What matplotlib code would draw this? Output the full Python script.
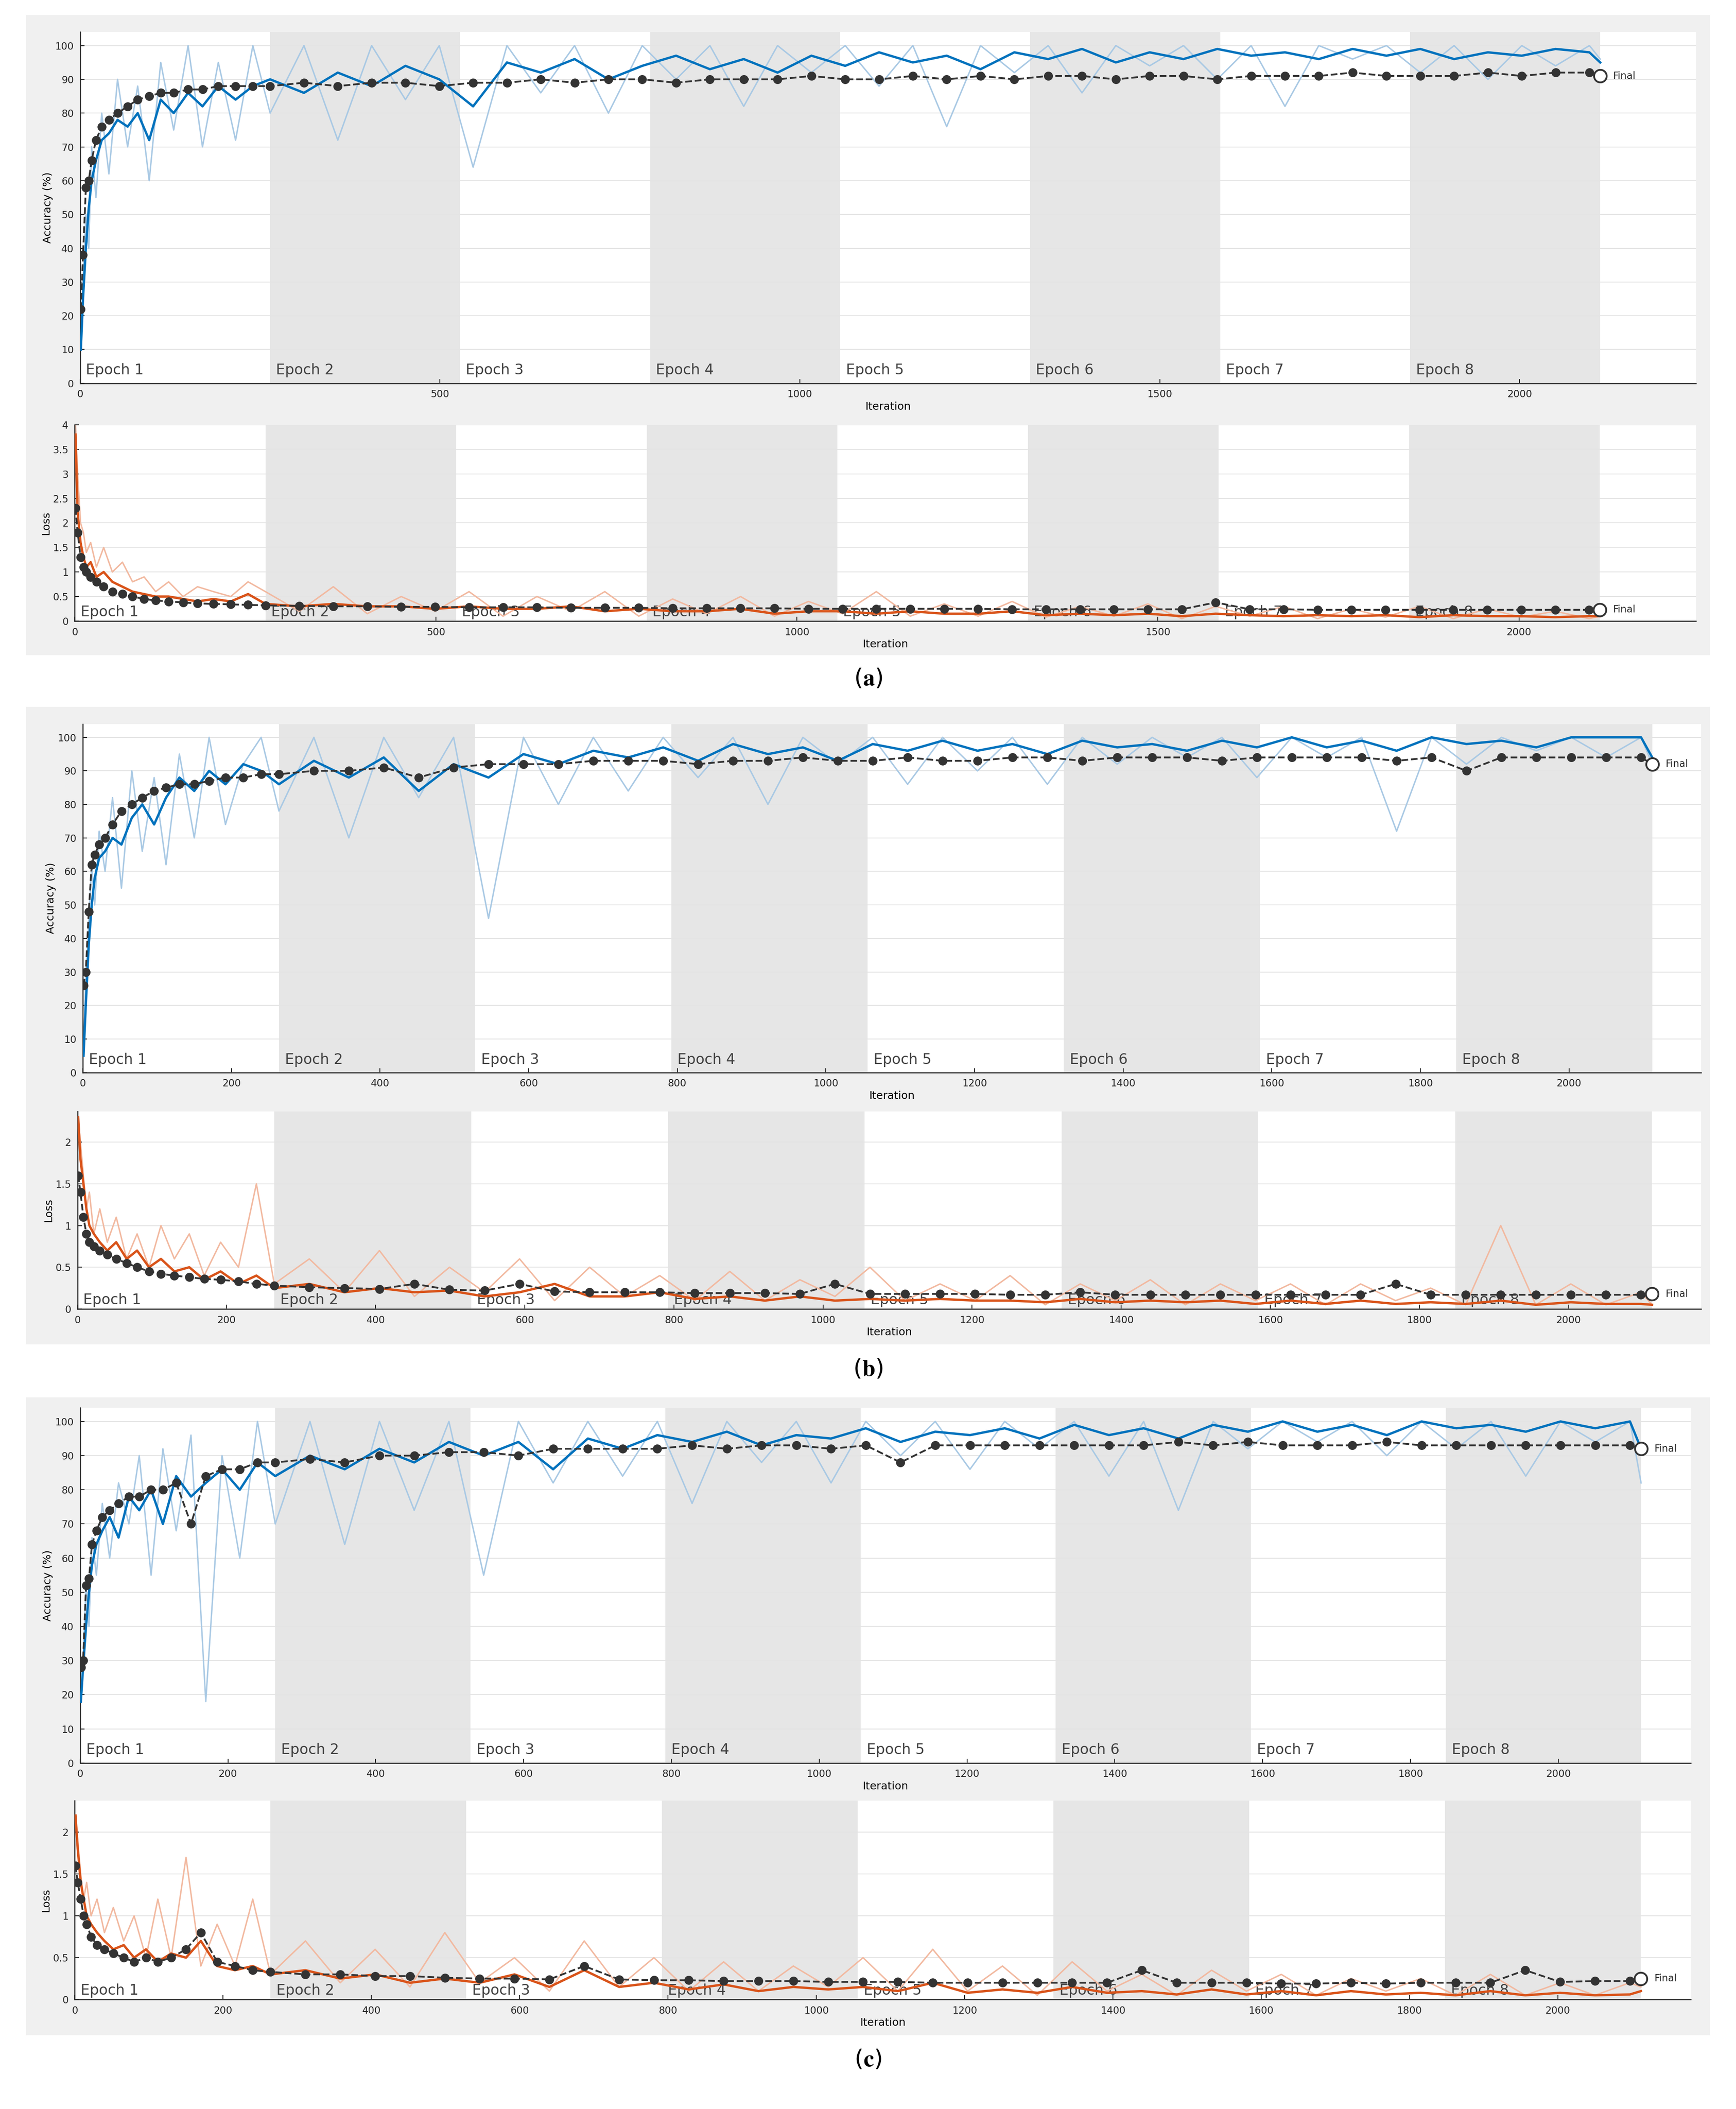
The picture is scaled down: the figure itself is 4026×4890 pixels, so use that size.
import numpy as np
import matplotlib.pyplot as plt
from matplotlib.patches import Rectangle
from matplotlib.ticker import FormatStrFormatter, FuncFormatter

plt.rcParams['font.family'] = ['DejaVu Sans']
plt.rcParams['mathtext.fontset'] = 'stix'

# sample iterations shared by all panels
iters = [1, 4, 8, 12, 16, 22, 30, 40, 52, 66, 80, 96, 112, 130, 150, 170, 192, 216, 240] + \
        list(range(264, 2112, 47)) + [2112]
epoch_len = 264
n_epochs = 8

# ---------- panel (a) ----------
acc_raw_a = [10, 30, 50, 40, 70, 55, 80, 62, 90, 70, 88, 60, 95, 75, 100, 70, 95, 72, 100,
             80, 100, 72, 100, 84, 100, 64, 100, 86, 100,
             80, 100, 90, 100, 82, 100, 92, 100, 88, 100,
             76, 100, 92, 100, 86, 100, 94, 100, 90, 100,
             82, 100, 96, 100, 92, 100, 90, 100, 94, 100, 96]
acc_sm_a = [10, 25, 40, 52, 60, 66, 72, 74, 78, 76, 80, 72, 84, 80, 86, 82, 88, 84, 88,
            90, 86, 92, 88, 94, 90, 82, 95, 92, 96,
            90, 94, 97, 93, 96, 92, 97, 94, 98, 95,
            97, 93, 98, 96, 99, 95, 98, 96, 99, 97,
            98, 96, 99, 97, 99, 96, 98, 97, 99, 98, 95]
acc_val_a = [22, 38, 58, 60, 66, 72, 76, 78, 80, 82, 84, 85, 86, 86, 87, 87, 88, 88, 88,
             88, 89, 88, 89, 89, 88, 89, 89, 90, 89,
             90, 90, 89, 90, 90, 90, 91, 90, 90, 91,
             90, 91, 90, 91, 91, 90, 91, 91, 90, 91,
             91, 91, 92, 91, 91, 91, 92, 91, 92, 92, 91]
loss_raw_a = [4.0, 3.0, 2.0, 1.8, 1.4, 1.6, 1.1, 1.5, 1.0, 1.2, 0.8, 0.9, 0.6, 0.8, 0.5, 0.7, 0.6, 0.5, 0.8,
              0.6, 0.2, 0.7, 0.15, 0.5, 0.2, 0.6, 0.1, 0.5, 0.2,
              0.6, 0.1, 0.45, 0.15, 0.5, 0.1, 0.4, 0.15, 0.6, 0.1,
              0.35, 0.1, 0.4, 0.08, 0.3, 0.1, 0.35, 0.05, 0.3, 0.1,
              0.3, 0.05, 0.25, 0.08, 0.3, 0.05, 0.25, 0.08, 0.2, 0.05, 0.1]
loss_sm_a = [3.8, 2.2, 1.6, 1.3, 1.1, 1.2, 0.9, 1.0, 0.8, 0.7, 0.6, 0.55, 0.5, 0.5, 0.45, 0.4, 0.45, 0.4, 0.55,
             0.35, 0.3, 0.35, 0.3, 0.3, 0.25, 0.3, 0.25, 0.25, 0.3,
             0.2, 0.25, 0.2, 0.2, 0.25, 0.15, 0.2, 0.2, 0.15, 0.2,
             0.15, 0.15, 0.2, 0.12, 0.15, 0.12, 0.15, 0.1, 0.15, 0.12,
             0.1, 0.12, 0.1, 0.12, 0.08, 0.12, 0.1, 0.1, 0.08, 0.1, 0.1]
loss_val_a = [2.3, 1.8, 1.3, 1.1, 1.0, 0.9, 0.8, 0.7, 0.6, 0.55, 0.5, 0.45, 0.42, 0.4, 0.38, 0.36, 0.35, 0.34, 0.33,
              0.32, 0.31, 0.3, 0.3, 0.29, 0.29, 0.28, 0.28, 0.28, 0.27,
              0.27, 0.27, 0.26, 0.26, 0.26, 0.26, 0.25, 0.25, 0.25, 0.25,
              0.25, 0.25, 0.24, 0.24, 0.24, 0.24, 0.24, 0.24, 0.38, 0.24,
              0.24, 0.23, 0.23, 0.23, 0.23, 0.23, 0.23, 0.23, 0.23, 0.23, 0.23]

# ---------- panel (b) ----------
acc_raw_b = [5, 28, 45, 62, 50, 72, 60, 82, 55, 90, 66, 88, 62, 95, 70, 100, 74, 92, 100,
             78, 100, 70, 100, 82, 100, 46, 100, 80, 100,
             84, 100, 88, 100, 80, 100, 92, 100, 86, 100,
             90, 100, 86, 100, 92, 100, 94, 100, 88, 100,
             94, 100, 72, 100, 92, 100, 96, 100, 94, 100, 92]
acc_sm_b = [5, 20, 38, 50, 58, 64, 66, 70, 68, 76, 80, 74, 82, 88, 84, 90, 86, 92, 90,
            86, 93, 88, 94, 84, 92, 88, 95, 92, 96,
            94, 97, 93, 98, 95, 97, 93, 98, 96, 99,
            96, 98, 95, 99, 97, 98, 96, 99, 97, 100,
            97, 99, 96, 100, 98, 99, 97, 100, 100, 100, 94]
acc_val_b = [26, 30, 48, 62, 65, 68, 70, 74, 78, 80, 82, 84, 85, 86, 86, 87, 88, 88, 89,
             89, 90, 90, 91, 88, 91, 92, 92, 92, 93,
             93, 93, 92, 93, 93, 94, 93, 93, 94, 93,
             93, 94, 94, 93, 94, 94, 94, 93, 94, 94,
             94, 94, 93, 94, 90, 94, 94, 94, 94, 94, 92]
loss_raw_b = [2.3, 2.0, 1.6, 1.2, 1.4, 0.9, 1.2, 0.8, 1.1, 0.6, 0.9, 0.5, 1.0, 0.6, 0.9, 0.4, 0.8, 0.5, 1.5,
              0.3, 0.6, 0.2, 0.7, 0.15, 0.5, 0.2, 0.6, 0.1, 0.5,
              0.15, 0.4, 0.1, 0.45, 0.1, 0.35, 0.15, 0.5, 0.1, 0.3,
              0.1, 0.4, 0.05, 0.3, 0.1, 0.35, 0.05, 0.3, 0.1, 0.3,
              0.05, 0.3, 0.1, 0.25, 0.05, 1.0, 0.05, 0.3, 0.05, 0.2, 0.05]
loss_sm_b = [2.3, 1.8, 1.5, 1.2, 1.0, 0.9, 0.8, 0.7, 0.8, 0.6, 0.7, 0.5, 0.6, 0.45, 0.5, 0.35, 0.45, 0.3, 0.4,
             0.25, 0.3, 0.2, 0.25, 0.2, 0.22, 0.15, 0.2, 0.3, 0.15,
             0.15, 0.2, 0.12, 0.15, 0.1, 0.15, 0.1, 0.12, 0.1, 0.12,
             0.1, 0.1, 0.08, 0.12, 0.08, 0.1, 0.08, 0.1, 0.06, 0.1,
             0.06, 0.1, 0.06, 0.08, 0.06, 0.1, 0.05, 0.08, 0.06, 0.06, 0.05]
loss_val_b = [1.6, 1.4, 1.1, 0.9, 0.8, 0.75, 0.7, 0.65, 0.6, 0.55, 0.5, 0.45, 0.42, 0.4, 0.38, 0.36, 0.35, 0.33, 0.3,
              0.28, 0.26, 0.25, 0.24, 0.3, 0.23, 0.22, 0.3, 0.21, 0.2,
              0.2, 0.2, 0.19, 0.19, 0.19, 0.18, 0.3, 0.18, 0.18, 0.18,
              0.18, 0.17, 0.17, 0.2, 0.17, 0.17, 0.17, 0.17, 0.17, 0.17,
              0.17, 0.17, 0.3, 0.17, 0.17, 0.17, 0.17, 0.17, 0.17, 0.17, 0.18]

# ---------- panel (c) ----------
acc_raw_c = [18, 30, 52, 40, 66, 55, 76, 60, 82, 70, 90, 55, 92, 68, 96, 18, 90, 60, 100,
             70, 100, 64, 100, 74, 100, 55, 100, 82, 100,
             84, 100, 76, 100, 88, 100, 82, 100, 90, 100,
             86, 100, 92, 100, 84, 100, 74, 100, 92, 100,
             94, 100, 90, 100, 92, 100, 84, 100, 94, 100, 82]
acc_sm_c = [18, 28, 40, 50, 58, 64, 68, 72, 66, 78, 74, 80, 70, 84, 78, 82, 86, 80, 88,
            84, 90, 86, 92, 88, 94, 90, 94, 86, 95,
            92, 96, 94, 97, 93, 96, 95, 98, 94, 97,
            96, 98, 95, 99, 96, 98, 95, 99, 97, 100,
            97, 99, 96, 100, 98, 99, 97, 100, 98, 100, 92]
acc_val_c = [28, 30, 52, 54, 64, 68, 72, 74, 76, 78, 78, 80, 80, 82, 70, 84, 86, 86, 88,
             88, 89, 88, 90, 90, 91, 91, 90, 92, 92,
             92, 92, 93, 92, 93, 93, 92, 93, 88, 93,
             93, 93, 93, 93, 93, 93, 94, 93, 94, 93,
             93, 93, 94, 93, 93, 93, 93, 93, 93, 93, 92]
loss_raw_c = [2.2, 1.9, 1.5, 1.2, 1.4, 1.0, 1.2, 0.8, 1.1, 0.7, 1.0, 0.5, 1.2, 0.5, 1.7, 0.4, 0.9, 0.4, 1.2,
              0.3, 0.7, 0.2, 0.6, 0.15, 0.8, 0.2, 0.5, 0.1, 0.7,
              0.15, 0.5, 0.1, 0.45, 0.1, 0.4, 0.15, 0.5, 0.1, 0.6,
              0.1, 0.4, 0.05, 0.45, 0.1, 0.3, 0.05, 0.35, 0.1, 0.3,
              0.05, 0.25, 0.1, 0.25, 0.05, 0.3, 0.05, 0.2, 0.05, 0.2, 0.15]
loss_sm_c = [2.2, 1.8, 1.4, 1.2, 1.0, 0.9, 0.8, 0.7, 0.6, 0.65, 0.5, 0.6, 0.45, 0.55, 0.5, 0.7, 0.4, 0.35, 0.4,
             0.3, 0.35, 0.25, 0.3, 0.2, 0.25, 0.2, 0.3, 0.15, 0.35,
             0.15, 0.2, 0.12, 0.18, 0.1, 0.15, 0.12, 0.15, 0.1, 0.2,
             0.08, 0.12, 0.08, 0.15, 0.08, 0.1, 0.06, 0.12, 0.06, 0.1,
             0.05, 0.1, 0.06, 0.08, 0.05, 0.1, 0.05, 0.08, 0.05, 0.06, 0.1]
loss_val_c = [1.6, 1.4, 1.2, 1.0, 0.9, 0.75, 0.65, 0.6, 0.55, 0.5, 0.45, 0.5, 0.45, 0.5, 0.6, 0.8, 0.45, 0.4, 0.35,
              0.33, 0.3, 0.3, 0.28, 0.28, 0.26, 0.25, 0.25, 0.24, 0.4,
              0.24, 0.23, 0.23, 0.22, 0.22, 0.22, 0.21, 0.21, 0.21, 0.2,
              0.2, 0.2, 0.2, 0.2, 0.2, 0.35, 0.2, 0.2, 0.2, 0.19,
              0.19, 0.2, 0.19, 0.2, 0.2, 0.2, 0.35, 0.21, 0.22, 0.22, 0.25]

panels = [
    dict(tag='a', acc=(acc_raw_a, acc_sm_a, acc_val_a), loss=(loss_raw_a, loss_sm_a, loss_val_a),
         box=(12, 490), acc_box=(60, 1270, 24, 287), loss_box=(56, 1270, 318, 465),
         xmax=2245, loss_ymax=4.0, loss_ticks=[0, 0.5, 1, 1.5, 2, 2.5, 3, 3.5, 4],
         xticks=[0, 500, 1000, 1500, 2000], label_y=508),
    dict(tag='b', acc=(acc_raw_b, acc_sm_b, acc_val_b), loss=(loss_raw_b, loss_sm_b, loss_val_b),
         box=(530, 1006), acc_box=(62, 1274, 542, 803), loss_box=(58, 1274, 832, 980),
         xmax=2178, loss_ymax=2.37, loss_ticks=[0, 0.5, 1, 1.5, 2],
         xticks=list(range(0, 2001, 200)), label_y=1025),
    dict(tag='c', acc=(acc_raw_c, acc_sm_c, acc_val_c), loss=(loss_raw_c, loss_sm_c, loss_val_c),
         box=(1047, 1523), acc_box=(60, 1266, 1054, 1320), loss_box=(56, 1266, 1348, 1497),
         xmax=2179, loss_ymax=2.38, loss_ticks=[0, 0.5, 1, 1.5, 2],
         xticks=list(range(0, 2001, 200)), label_y=1542),
]

W, H = 1300.0, 1579.0
fig = plt.figure(figsize=(13.42, 16.3), dpi=300)


def add_axes(b):
    x0, x1, y0, y1 = b
    ax = fig.add_axes([x0 / W, 1 - y1 / H, (x1 - x0) / W, (y1 - y0) / H])
    ax.set_zorder(5)
    return ax


def style(ax, xmax, ymax, yticks, xticks, ylabel):
    ax.set_xlim(0, xmax)
    ax.set_ylim(0, ymax)
    ax.set_yticks(yticks)
    ax.set_xticks(xticks)
    ax.yaxis.set_major_formatter(FuncFormatter(lambda v, _: f'{v:g}'))
    ax.tick_params(direction='in', labelsize=5.5, length=2.5, width=0.5, colors='#262626')
    ax.grid(True, axis='y', color='#e4e4e4', linewidth=0.5, zorder=0)
    for s in ['top', 'right']:
        ax.spines[s].set_visible(False)
    for s in ['left', 'bottom']:
        ax.spines[s].set_color('#262626')
        ax.spines[s].set_linewidth(0.6)
    ax.set_xlabel('Iteration', fontsize=6, labelpad=1)
    ax.set_ylabel(ylabel, fontsize=6, labelpad=1)
    for e in range(n_epochs):
        if e % 2 == 1:
            ax.axvspan(e * epoch_len, (e + 1) * epoch_len, color='#e6e6e6', zorder=0.5, lw=0)
        ax.text(e * epoch_len + 8, ymax * 0.025, f'Epoch {e + 1}', fontsize=8,
                color='#404040', zorder=1)


for p in panels:
    y0, y1 = p['box']
    fig.add_artist(Rectangle((20 / W, 1 - y1 / H), 1260 / W, (y1 - y0) / H,
                             transform=fig.transFigure, color='#f0f0f0', zorder=-10))
    # accuracy
    ax = add_axes(p['acc_box'])
    style(ax, p['xmax'], 104, list(range(0, 101, 10)), p['xticks'], 'Accuracy (%)')
    raw, sm, val = p['acc']
    ax.plot(iters, raw, color='#a9c9e4', lw=0.8, zorder=2)
    ax.plot(iters, sm, color='#0072bd', lw=1.3, zorder=3)
    ax.plot(iters, val, color='#333333', ls='--', lw=1.0, marker='o', ms=4, zorder=4)
    ax.plot(iters[-1], val[-1], 'o', ms=7, mfc='white', mec='#333333', mew=1, zorder=5)
    ax.text(iters[-1] + 18, val[-1], 'Final', fontsize=5.5, va='center', color='#262626')
    # loss
    ax = add_axes(p['loss_box'])
    style(ax, p['xmax'], p['loss_ymax'], p['loss_ticks'], p['xticks'], 'Loss')
    raw, sm, val = p['loss']
    ax.plot(iters, raw, color='#f2b9a0', lw=0.8, zorder=2)
    ax.plot(iters, sm, color='#d95319', lw=1.3, zorder=3)
    ax.plot(iters, val, color='#333333', ls='--', lw=1.0, marker='o', ms=4, zorder=4)
    ax.plot(iters[-1], val[-1], 'o', ms=7, mfc='white', mec='#333333', mew=1, zorder=5)
    ax.text(iters[-1] + 18, val[-1], 'Final', fontsize=5.5, va='center', color='#262626')
    fig.text(0.5, 1 - p['label_y'] / H, r'($\mathbf{%s}$)' % p['tag'], fontsize=13,
             ha='center', va='center')

fig.savefig('out.png', dpi=300, facecolor='white')
